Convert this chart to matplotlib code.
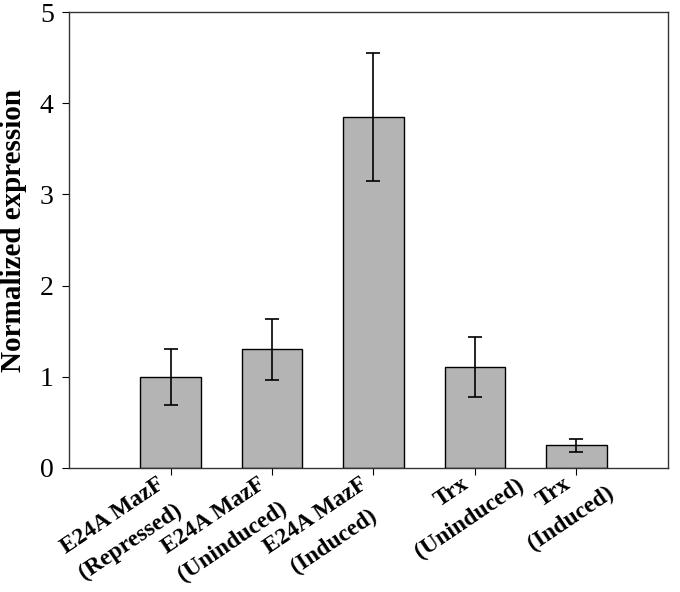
import matplotlib
matplotlib.use('Agg')
import matplotlib.pyplot as plt
import matplotlib.transforms as mtransforms
import numpy as np

plt.rcParams['font.family'] = 'serif'
plt.rcParams['font.serif'] = ['Liberation Serif']

# data
labels = ['E24A MazF\n(Repressed)', 'E24A MazF\n(Uninduced)', 'E24A MazF\n(Induced)',
          'Trx\n(Uninduced)', 'Trx\n(Induced)']
values = [1.00, 1.30, 3.85, 1.11, 0.25]
errors = [0.31, 0.33, 0.705, 0.33, 0.07]

x = np.arange(1, len(values) + 1)

fig = plt.figure(figsize=(6.8, 5.92), dpi=100)
ax = fig.add_axes([0.1015, 0.2095, 0.8805, 0.7702])

ax.bar(x, values, width=0.6, color='#b4b4b4', edgecolor='black', linewidth=1.0)
ax.errorbar(x, values, yerr=errors, fmt='none', ecolor='black',
            elinewidth=1.2, capsize=5, capthick=1.2)

ax.set_xlim(0, 5.9)
ax.set_ylim(0, 5)
ax.set_yticks([0, 1, 2, 3, 4, 5])
ax.set_xticks(x)
ax.set_xticklabels([])
ax.tick_params(axis='y', direction='out', length=5, labelsize=20, pad=6)
ax.tick_params(axis='x', direction='out', length=5)
ax.set_ylabel('Normalized expression', fontsize=21, fontweight='bold')
ax.yaxis.set_label_coords(-0.07, 0.52)

# rotated two-line labels: first line ends at the tick, second centred under it
rot = 34
fs = 17
off = mtransforms.ScaledTranslation(-0.08, -0.14, fig.dpi_scale_trans)
gap = 23
for xi, lab in zip(x, labels):
    l1, l2 = lab.split('\n')
    t1 = ax.text(xi, 0, l1, transform=ax.get_xaxis_transform() + off,
                 rotation=rot, ha='right', va='center', rotation_mode='anchor',
                 fontsize=fs, fontweight='bold')
    ax.annotate(l2, xy=(0.5, 0.5), xycoords=t1,
                xytext=(gap * np.sin(np.radians(rot)), -gap * np.cos(np.radians(rot))),
                textcoords='offset points', rotation=rot, ha='center', va='center',
                rotation_mode='anchor', fontsize=fs, fontweight='bold')

for s in ax.spines.values():
    s.set_linewidth(1.0)
    s.set_color('#333333')

fig.savefig('out.png', dpi=100)
